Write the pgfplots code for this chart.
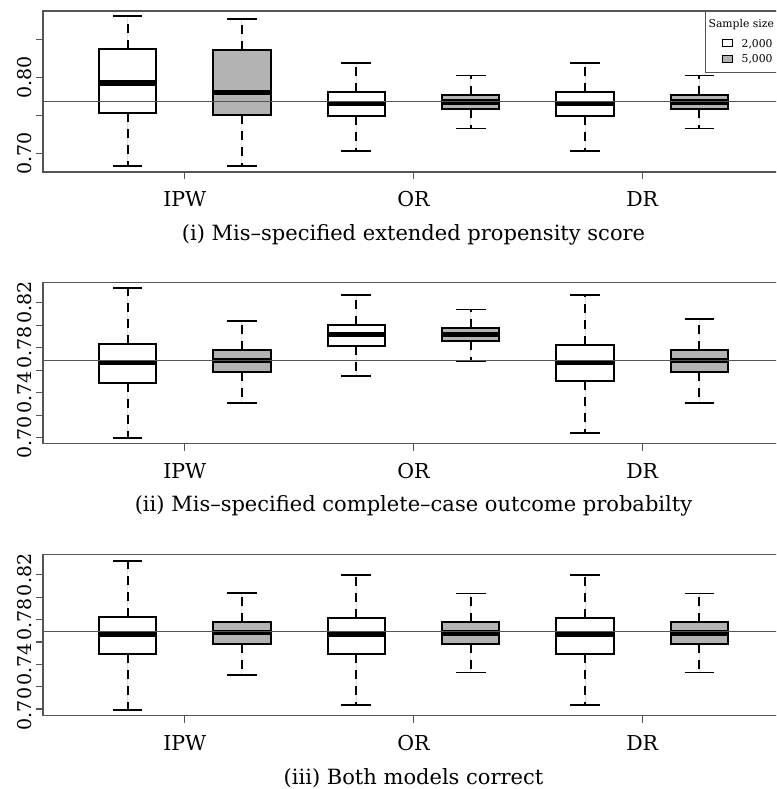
\documentclass[border=0pt]{standalone}
\usepackage{fontspec}
\setmainfont{DejaVu Serif}
\usepackage{pgfplots}
\pgfplotsset{compat=1.18}
\usepgfplotslibrary{statistics}
\definecolor{boxgray}{HTML}{B3B3B3}
\definecolor{axgray}{HTML}{555555}
\pgfplotsset{
  myaxis/.style={
    scale only axis, width=741pt, height=161pt,
    xmin=0.26, xmax=6.74,
    xtick={1.5,3.5,5.5}, xticklabels={IPW,OR,DR},
    axis line style={axgray, line width=1.1pt},
    tick style={axgray, line width=1.1pt},
    tick align=outside, major tick length=7pt,
    xtick pos=bottom, ytick pos=left,
    ticklabel style={inner sep=0pt},
    yticklabel style={font=\fontsize{19}{22}\selectfont, xshift=-4pt, rotate=90, anchor=base},
    xticklabel style={font=\fontsize{20.5}{24}\selectfont, anchor=base, yshift=-27.5pt},
    boxplot/draw direction=y,
    boxplot/box extend=0.5,
    boxplot/whisker extend=0.26,
    boxplot/every box/.style={draw=black, line width=2pt},
    boxplot/every median/.style={draw=black, line width=5.5pt},
    boxplot/draw/lower whisker/.code={%
      \draw[black, line width=1.8pt, dash pattern=on 9pt off 7pt]
        (boxplot box cs:\pgfplotsboxplotvalue{lower quartile},0.5) --
        (boxplot box cs:\pgfplotsboxplotvalue{lower whisker},0.5);
      \draw[black, line width=1.8pt, solid]
        (boxplot whisker cs:\pgfplotsboxplotvalue{lower whisker},0) --
        (boxplot whisker cs:\pgfplotsboxplotvalue{lower whisker},1);
    },
    boxplot/draw/upper whisker/.code={%
      \draw[black, line width=1.8pt, dash pattern=on 9pt off 7pt]
        (boxplot box cs:\pgfplotsboxplotvalue{upper quartile},0.5) --
        (boxplot box cs:\pgfplotsboxplotvalue{upper whisker},0.5);
      \draw[black, line width=1.8pt, solid]
        (boxplot whisker cs:\pgfplotsboxplotvalue{upper whisker},0) --
        (boxplot whisker cs:\pgfplotsboxplotvalue{upper whisker},1);
    },
  },
  w/.style={fill=white, draw=black, forget plot},
  g/.style={fill=boxgray, draw=black, forget plot},
}
\begin{document}
\begin{tikzpicture}
\useasboundingbox (0pt,0pt) rectangle (776pt,-789pt);
\clip (0pt,0pt) rectangle (776pt,-789pt);
% ---------------- Panel (i)
\begin{axis}[myaxis, at={(43pt,-172pt)}, anchor=south west,
  ymin=0.676, ymax=0.888,
  ytick={0.70,0.75,0.80,0.85}, yticklabels={\mbox{0.70},,\mbox{0.80},},
  legend style={at={(1,1)}, anchor=north east, draw=axgray, line width=0.9pt,
    font=\fontsize{10.8}{13}\selectfont, inner xsep=0pt, inner ysep=3pt,
    nodes={inner sep=0pt}, row sep=0pt,
    /tikz/every odd column/.style={column sep=6pt}},
  legend cell align=left]
\addlegendimage{legend image code/.code={\path[draw=none] (0pt,0pt) -- (30pt,0pt);}}
\addlegendentry[text height=13.3pt, text depth=9pt]{\hspace*{-33pt}Sample size}
\addlegendimage{legend image code/.code={\path[draw=none] (0pt,0pt) -- (30pt,0pt);\draw[black, line width=0.9pt, fill=white] (17pt,-3.5pt) rectangle (27pt,3.5pt);}}
\addlegendentry[text height=10.4pt, text depth=2pt]{2,000\rule{11pt}{0pt}}
\addlegendimage{legend image code/.code={\path[draw=none] (0pt,0pt) -- (30pt,0pt);\draw[black, line width=0.9pt, fill=boxgray] (17pt,-3.5pt) rectangle (27pt,3.5pt);}}
\addlegendentry[text height=13pt, text depth=7pt]{5,000\rule{11pt}{0pt}}
\addplot[w, boxplot prepared={draw position=1, lower whisker=0.684, lower quartile=0.7535, median=0.793, upper quartile=0.838, upper whisker=0.881}] coordinates {};
\addplot[g, boxplot prepared={draw position=2, lower whisker=0.684, lower quartile=0.7504, median=0.781, upper quartile=0.837, upper whisker=0.877}] coordinates {};
\addplot[w, boxplot prepared={draw position=3, lower whisker=0.7036, lower quartile=0.7496, median=0.766, upper quartile=0.7816, upper whisker=0.820}] coordinates {};
\addplot[g, boxplot prepared={draw position=4, lower whisker=0.7333, lower quartile=0.7588, median=0.7684, upper quartile=0.777, upper whisker=0.803}] coordinates {};
\addplot[w, boxplot prepared={draw position=5, lower whisker=0.7036, lower quartile=0.7496, median=0.766, upper quartile=0.7816, upper whisker=0.820}] coordinates {};
\addplot[g, boxplot prepared={draw position=6, lower whisker=0.7333, lower quartile=0.7588, median=0.7684, upper quartile=0.777, upper whisker=0.803}] coordinates {};
\addplot[axgray, line width=1.1pt, forget plot] coordinates {(0.26,0.7692) (6.74,0.7692)};
\end{axis}
\node[anchor=base, font=\fontsize{21}{25}\selectfont] at (413.5pt,-240pt) {(i) Mis–specified extended propensity score};
% ---------------- Panel (ii)
\begin{axis}[myaxis, at={(43pt,-443.7pt)}, anchor=south west,
  ymin=0.6947, ymax=0.8378,
  ytick={0.70,0.72,0.74,0.76,0.78,0.80,0.82}, yticklabels={\mbox{0.70},,\mbox{0.74},,\mbox{0.78},,\mbox{0.82}}]
\addplot[w, boxplot prepared={draw position=1, lower whisker=0.700, lower quartile=0.7489, median=0.767, upper quartile=0.783, upper whisker=0.8328}] coordinates {};
\addplot[g, boxplot prepared={draw position=2, lower whisker=0.7308, lower quartile=0.7587, median=0.7688, upper quartile=0.7777, upper whisker=0.804}] coordinates {};
\addplot[w, boxplot prepared={draw position=3, lower whisker=0.7546, lower quartile=0.7818, median=0.7916, upper quartile=0.8002, upper whisker=0.8268}] coordinates {};
\addplot[g, boxplot prepared={draw position=4, lower whisker=0.7679, lower quartile=0.7857, median=0.7916, upper quartile=0.7972, upper whisker=0.8139}] coordinates {};
\addplot[w, boxplot prepared={draw position=5, lower whisker=0.7042, lower quartile=0.7504, median=0.767, upper quartile=0.7824, upper whisker=0.8266}] coordinates {};
\addplot[g, boxplot prepared={draw position=6, lower whisker=0.7306, lower quartile=0.7587, median=0.7688, upper quartile=0.7777, upper whisker=0.8055}] coordinates {};
\addplot[axgray, line width=1.1pt, forget plot] coordinates {(0.26,0.769) (6.74,0.769)};
\end{axis}
\node[anchor=base, font=\fontsize{21}{25}\selectfont] at (413.5pt,-511.7pt) {(ii) Mis–specified complete–case outcome probabilty};
% ---------------- Panel (iii)
\begin{axis}[myaxis, at={(43pt,-715.7pt)}, anchor=south west,
  ymin=0.694, ymax=0.8381,
  ytick={0.70,0.72,0.74,0.76,0.78,0.80,0.82}, yticklabels={\mbox{0.70},,\mbox{0.74},,\mbox{0.78},,\mbox{0.82}}]
\addplot[w, boxplot prepared={draw position=1, lower whisker=0.6992, lower quartile=0.7489, median=0.7667, upper quartile=0.7827, upper whisker=0.8327}] coordinates {};
\addplot[g, boxplot prepared={draw position=2, lower whisker=0.7305, lower quartile=0.7586, median=0.7684, upper quartile=0.7776, upper whisker=0.804}] coordinates {};
\addplot[w, boxplot prepared={draw position=3, lower whisker=0.7036, lower quartile=0.7495, median=0.7667, upper quartile=0.7813, upper whisker=0.820}] coordinates {};
\addplot[g, boxplot prepared={draw position=4, lower whisker=0.7326, lower quartile=0.7586, median=0.768, upper quartile=0.7776, upper whisker=0.8033}] coordinates {};
\addplot[w, boxplot prepared={draw position=5, lower whisker=0.7036, lower quartile=0.7495, median=0.7667, upper quartile=0.7813, upper whisker=0.820}] coordinates {};
\addplot[g, boxplot prepared={draw position=6, lower whisker=0.7326, lower quartile=0.7586, median=0.768, upper quartile=0.7776, upper whisker=0.8033}] coordinates {};
\addplot[axgray, line width=1.1pt, forget plot] coordinates {(0.26,0.769) (6.74,0.769)};
\end{axis}
\node[anchor=base, font=\fontsize{21}{25}\selectfont] at (413.5pt,-784pt) {(iii) Both models correct};
\end{tikzpicture}
\end{document}
